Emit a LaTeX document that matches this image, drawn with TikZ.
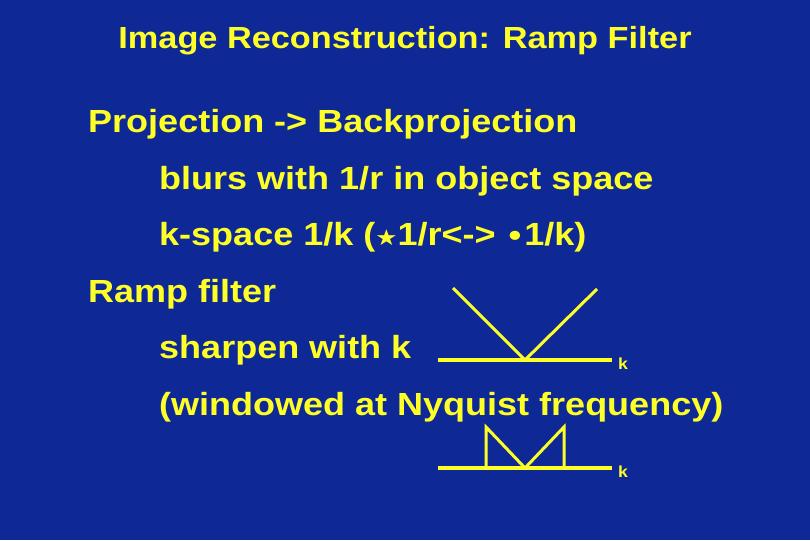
\documentclass[tikz,border=0pt]{standalone}
\usepackage{fontspec}
\setmainfont{Liberation Sans}
\newfontfamily\dejavu{DejaVu Sans}
\definecolor{bg}{RGB}{14,40,150}
\definecolor{yel}{RGB}{255,255,40}
\begin{document}
\begin{tikzpicture}[x=1pt,y=-1pt,
  txt/.style={text=yel,font=\fontsize{32}{34}\selectfont\bfseries,anchor=base west,inner sep=0,xscale=1.125},
  small/.style={text=yel,font=\fontsize{16}{16}\selectfont\bfseries,anchor=base west,inner sep=0,xscale=1.1},
  ln/.style={draw=yel,line width=3.5pt}]
\fill[bg] (0,0) rectangle (810,540);
\useasboundingbox (0,0) rectangle (810,540);
\node[txt,anchor=base,font=\fontsize{30.5}{32}\selectfont\bfseries] (title) at (405,49) {Image Reconstruction: Ramp Filter};
\node[txt] (t1) at (88,133) {Projection -> Backprojection};
\node[txt] (t2) at (159,189) {blurs with 1/r in object space};
\node[txt] (t3) at (159,245) {k-space 1/k ({\dejavu\fontsize{22}{22}\selectfont ★}1/r<-> {\dejavu\fontsize{26}{26}\selectfont •}1/k)};
\node[txt] (t4) at (88,302) {Ramp filter};
\node[txt] (t5) at (159,358) {sharpen with k};
\node[txt] (t6) at (159,415) {(windowed at Nyquist frequency)};
\coordinate (a0) at (438,360); \coordinate (a1) at (612,360);
\coordinate (av) at (525,360); \coordinate (al) at (453,288); \coordinate (ar) at (597,289);
\draw[ln] (a0) -- (a1); \draw[ln,line width=3pt] (al) -- (av) -- (ar);
\node[small] (k1) at (618,369) {k};
\coordinate (b0) at (438,468); \coordinate (b1) at (612,468);
\coordinate (bv) at (525,468); \coordinate (bl) at (486,427); \coordinate (br) at (564,427);
\coordinate (bl0) at (486,468); \coordinate (br0) at (564,468);
\draw[ln] (b0) -- (b1); \draw[ln,line width=3pt] (bl0) -- (bl) -- (bv) -- (br) -- (br0);
\node[small] (k2) at (618,477) {k};
\end{tikzpicture}
\end{document}
